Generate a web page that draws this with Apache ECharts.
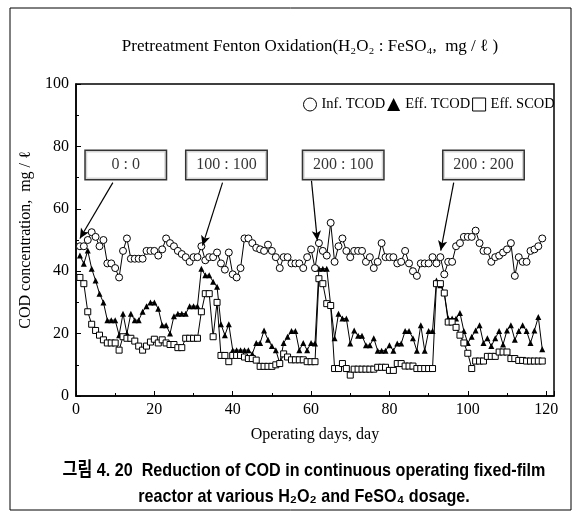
<!DOCTYPE html>
<html>
<head>
<meta charset="utf-8">
<script src="https://cdn.jsdelivr.net/npm/echarts@6/dist/echarts.min.js"></script>
<style>
  html, body { margin: 0; padding: 0; background: #fff; }
  #chart { width: 581px; height: 516px; }
</style>
</head>
<body>
<div id="chart"></div>
<script>
// operating day of each sample
const days = [
  1, 2, 3, 4, 5, 6, 7, 8, 9, 10, 11, 12, 13, 14, 15, 16, 17, 18, 19, 20,
  21, 22, 23, 24, 25, 26, 27, 28, 29, 30, 31, 32, 33, 34, 35, 36, 37, 38, 39, 40,
  41, 42, 43, 44, 45, 46, 47, 48, 49, 50, 51, 52, 53, 54, 55, 56, 57, 58, 59, 60,
  61, 62, 63, 64, 65, 66, 67, 68, 69, 70, 71, 72, 73, 74, 75, 76, 77, 78, 79, 80,
  81, 82, 83, 84, 85, 86, 87, 88, 89, 90, 91, 92, 93, 94, 95, 96, 97, 98, 99, 100,
  101, 102, 103, 104, 105, 106, 107, 108, 109, 110, 111, 112, 113, 114, 115, 116, 117, 118, 119
];

// Inf. TCOD (mg/l)
const infTCOD = [
  48, 48, 50, 52.5, 51, 48, 50, 42.5, 42.5, 41, 38, 46.5, 50.5, 44, 44, 44, 44, 46.5, 46.5, 46.5,
  45, 47, 50.5, 49, 48, 46.5, 45.5, 44.5, 43, 44.5, 44.5, 48, 43.5, 44.5, 44.5, 46, 42.5, 40.5, 46, 39,
  38, 41, 50.5, 50.5, 49, 47.5, 47, 46.5, 48.5, 46.5, 44.5, 41, 44.5, 44.5, 42.5, 42.5, 42.5, 41, 44.5, 47,
  41, 49, 46.5, 45, 55.5, 43, 48, 50.5, 46.5, 44.5, 46.5, 46.5, 46.5, 43, 44.5, 41, 43, 49, 44.5, 44.5,
  44.5, 42.5, 43, 46.5, 42.5, 40, 38.5, 42.5, 42.5, 42.5, 44.5, 42.5, 44.5, 39, 43, 43, 48, 49, 51, 51,
  51, 53, 49, 46.5, 46.5, 43, 44.5, 45, 46, 47, 49, 38.5, 44.5, 43, 43, 46.5, 47, 48, 50.5
];

// Eff. TCOD (mg/l)
const effTCOD = [
  45, 42.4, 46.6, 40.8, 37, 32.8, 30, 24.3, 24.3, 24.3, 19.5, 26.4, 20, 26.4, 24.3, 24.3, 27, 28.8, 30, 30,
  28, 22.7, 22.7, 20, 25.6, 26.4, 26.4, 26.4, 28.8, 28.8, 28.8, 40.8, 38.7, 38.7, 36.6, 35, 23, 19.5, 23, 14.7,
  14.7, 14.7, 14.7, 14.7, 13.5, 17, 17, 21, 18, 16, 14.7, 10.5, 17, 19, 20.8, 20.8, 14.7, 17, 14.7, 17,
  16.8, 40.8, 40.8, 40.8, 29, 18.5, 26.4, 24.8, 24.8, 16.8, 21, 19.3, 19.3, 16.3, 16.3, 18.5, 14.5, 14.5, 14.5, 16.3,
  14.5, 16.8, 16.8, 20.8, 20.8, 18.5, 14.5, 22.7, 14.5, 20.8, 20.8, 37, 35.5, 33, 24.8, 24.8, 24.8, 26.6, 20.8, 17,
  19, 21, 22.7, 17, 18.5, 16, 18.5, 20.8, 16.5, 21, 22.7, 18, 20.8, 22.7, 20.8, 17, 21, 25.3, 15
];

// Eff. SCOD (mg/l)
const effSCOD = [
  38, 36, 27, 23, 21, 19.5, 18, 17, 17, 17, 14.7, 19, 18.5, 18.5, 17.6, 16, 14.7, 16, 17.3, 18.2,
  17, 18, 17, 16.5, 16.5, 15.5, 15.5, 18.5, 18.5, 18.5, 18.5, 27, 32.8, 32.8, 19, 30, 13, 13, 11, 13,
  13, 13, 12.5, 12, 12, 11.5, 9.5, 9.5, 9.5, 9.5, 10, 10.4, 13.5, 12.5, 11.6, 11.6, 11.6, 11.6, 11, 11,
  11, 37.6, 36, 29.6, 29, 8.8, 8.8, 10.4, 8.8, 6.7, 8.6, 8.6, 8.6, 8.6, 8.6, 8.6, 9.2, 9.2, 9.2, 8.2,
  8.2, 10.4, 10.4, 9.6, 9.6, 9.6, 8.8, 8.8, 8.8, 8.8, 8.8, 36, 36, 33, 23.7, 23.7, 22, 19.5, 17, 13.7,
  8.8, 11.2, 11.2, 11.2, 12.7, 12.7, 12.7, 14.1, 14.1, 14.1, 12, 12, 11.4, 11.4, 11.2, 11.2, 11.2, 11.2, 11.2
];

// dosage notes (H2O2 : FeSO4) and where their arrows point
const noteTexts = ['0 : 0', '100 : 100', '200 : 100', '200 : 200'];
const noteDays = [12.7, 38.4, 68.2, 104];
const noteValues = [74, 74, 74, 74];
const arrowFrom = [[9.4, 68.4], [37.4, 68.4], [60.1, 69], [96.4, 68.4]];
const arrowTo = [[1, 50.5], [32.3, 48.2], [61.6, 49.8], [93.1, 46.6]];

const serif = "'Liberation Serif', 'Times New Roman', serif";
const capFont = "bold 19px 'Liberation Sans', 'Noto Sans CJK KR', sans-serif";

function pairs(vals) {
  return days.map((d, i) => [d, vals[i]]);
}

let chart = echarts.init(document.getElementById('chart'));
let option = {
  backgroundColor: '#fff',
  animation: false,
  title: {
    text: 'Pretreatment Fenton Oxidation(H\u2082O\u2082 : FeSO\u2084,  mg / \u2113 )',
    left: 305,
    textAlign: 'center',
    top: 33,
    textStyle: { fontFamily: serif, fontSize: 17, fontWeight: 'normal', color: '#000' }
  },
  graphic: [
    {
      type: 'rect',
      shape: { x: 10, y: 8, width: 561, height: 502 },
      style: { fill: 'none', stroke: '#000', lineWidth: 1 },
      silent: true
    },
    {
      type: 'text',
      x: 304, y: 471,
      scaleX: 0.85,
      style: {
        text: '그림 4. 20  Reduction of COD in continuous operating fixed-film',
        font: capFont, fill: '#000', align: 'center', verticalAlign: 'middle'
      },
      silent: true
    },
    {
      type: 'text',
      x: 304, y: 497,
      scaleX: 0.85,
      style: {
        text: 'reactor at various H\u2082O\u2082 and FeSO\u2084 dosage.',
        font: capFont, fill: '#000', align: 'center', verticalAlign: 'middle'
      },
      silent: true
    }
  ],
  legend: {
    left: 298,
    top: 92,
    itemWidth: 13,
    itemHeight: 13,
    itemGap: 2,
    textStyle: { fontFamily: serif, fontSize: 14.5, color: '#000' },
    data: [
      { name: 'Inf. TCOD', icon: 'circle', itemStyle: { color: '#fff', borderColor: '#000', borderWidth: 1 } },
      { name: 'Eff. TCOD', icon: 'triangle', itemStyle: { color: '#000', borderColor: '#000', borderWidth: 0 } },
      { name: 'Eff. SCOD', icon: 'rect', itemStyle: { color: '#fff', borderColor: '#000', borderWidth: 1 } }
    ]
  },
  grid: {
    left: 76,
    right: 27,
    top: 84,
    bottom: 120,
    show: true,
    borderColor: '#000',
    borderWidth: 1.5
  },
  xAxis: {
    type: 'value',
    min: 0,
    max: 122,
    interval: 20,
    name: 'Operating days, day',
    nameLocation: 'middle',
    nameGap: 31,
    nameTextStyle: { fontFamily: serif, fontSize: 16, color: '#000' },
    axisLine: { lineStyle: { color: '#000', width: 1.5 } },
    axisTick: { inside: true, length: 5, lineStyle: { color: '#000' } },
    minorTick: { show: true, splitNumber: 2, length: 3, lineStyle: { color: '#000' } },
    axisLabel: { fontFamily: serif, fontSize: 16, color: '#000', margin: 6, showMaxLabel: false },
    splitLine: { show: false }
  },
  yAxis: {
    type: 'value',
    min: 0,
    max: 100,
    interval: 20,
    name: 'COD concentration,  mg / \u2113',
    nameLocation: 'middle',
    nameGap: 40,
    nameTextStyle: { fontFamily: serif, fontSize: 16, color: '#000' },
    axisLine: { lineStyle: { color: '#000', width: 1.5 } },
    axisTick: { inside: true, length: 5, lineStyle: { color: '#000' } },
    minorTick: { show: true, splitNumber: 2, length: 3, lineStyle: { color: '#000' } },
    axisLabel: { fontFamily: serif, fontSize: 16, color: '#000', margin: 7 },
    splitLine: { show: false }
  },
  series: [
    {
      name: 'Inf. TCOD',
      type: 'line',
      data: pairs(infTCOD),
      symbol: 'circle',
      symbolSize: 7,
      itemStyle: { color: '#fff', borderColor: '#000', borderWidth: 1 },
      lineStyle: { color: '#000', width: 1 },
      z: 3
    },
    {
      name: 'Eff. TCOD',
      type: 'line',
      data: pairs(effTCOD),
      symbol: 'triangle',
      symbolSize: 6,
      itemStyle: { color: '#000', borderColor: '#000', borderWidth: 0 },
      lineStyle: { color: '#000', width: 1 },
      z: 2
    },
    {
      name: 'Eff. SCOD',
      type: 'line',
      data: pairs(effSCOD),
      symbol: 'rect',
      symbolSize: 6,
      itemStyle: { color: '#fff', borderColor: '#000', borderWidth: 1 },
      lineStyle: { color: '#000', width: 1 },
      z: 4
    },
    {
      name: 'notes',
      type: 'scatter',
      silent: true,
      symbolSize: 0,
      data: noteTexts.map((t, i) => [noteDays[i], noteValues[i], t]),
      label: {
        show: true,
        position: 'inside',
        formatter: p => p.value[2],
        fontFamily: serif,
        fontSize: 16,
        color: '#000',
        backgroundColor: '#fff',
        borderColor: '#000',
        borderWidth: 1.5,
        width: 60,
        align: 'center',
        padding: [6, 10, 6, 10]
      },
      markLine: {
        silent: true,
        symbol: ['none', 'arrow'],
        symbolSize: [7, 10],
        label: { show: false },
        lineStyle: { color: '#000', width: 1.2, type: 'solid' },
        data: arrowFrom.map((f, i) => [{ coord: f }, { coord: arrowTo[i] }])
      },
      z: 6
    }
  ]
};
chart.setOption(option);
</script>
</body>
</html>
